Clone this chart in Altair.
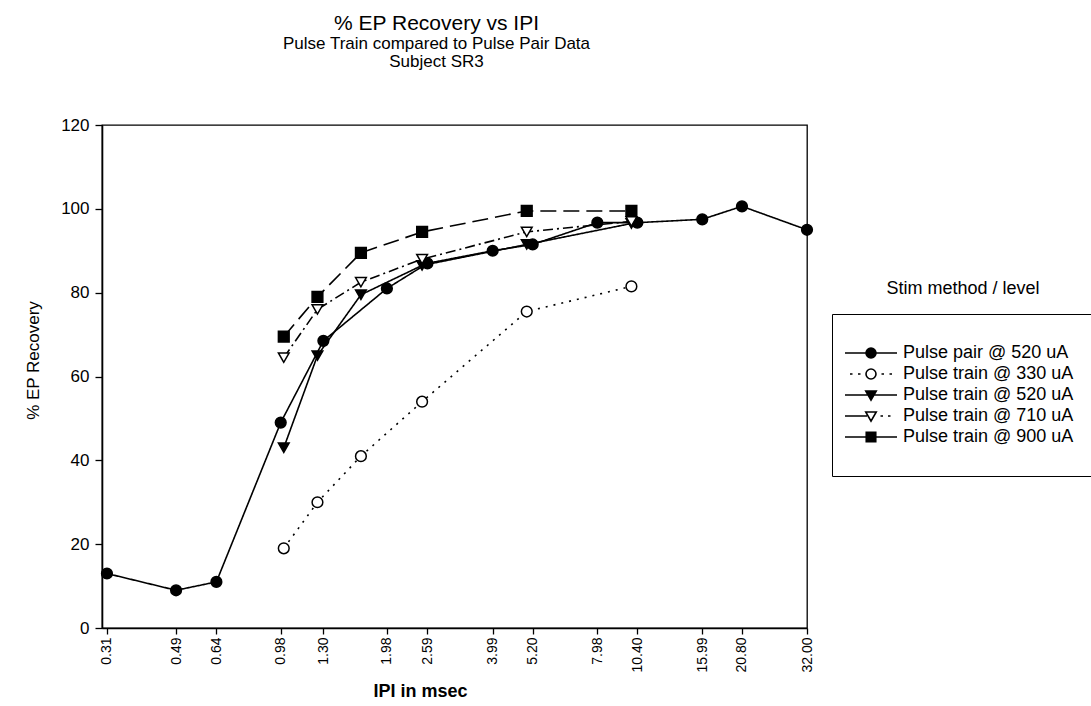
import altair as alt
import pandas as pd

FONT = "Liberation Sans"

series_names = [
    "Pulse pair @ 520 uA",
    "Pulse train @ 330 uA",
    "Pulse train @ 520 uA",
    "Pulse train @ 710 uA",
    "Pulse train @ 900 uA",
]

# Pulse pair IPIs (msec) and % EP recovery
pair_ipi = [0.31, 0.49, 0.64, 0.98, 1.30, 1.98, 2.59, 3.99, 5.20, 7.98, 10.40, 15.99, 20.80, 32.00]
pair_520 = [13, 9, 11, 49, 68.5, 81, 87, 90, 91.5, 96.7, 96.7, 97.5, 100.6, 95]

# Pulse train IPIs (msec) and % EP recovery
train_ipi = [1.0, 1.25, 1.667, 2.5, 5.0, 10.0]
train_330 = [19, 30, 41, 54, 75.5, 81.5]
train_520 = [43, 65, 79.5, 86.5, 91.5, 96.5]
train_710 = [64.5, 76, 82.5, 88, 94.5, 97]
train_900 = [69.5, 79, 89.5, 94.5, 99.5, 99.5]

tick_values = [0.31, 0.49, 0.64, 0.98, 1.30, 1.98, 2.59, 3.99, 5.20, 7.98, 10.40, 15.99, 20.80, 32.00]

rows = []
for x, y in zip(pair_ipi, pair_520):
    rows.append({"series": series_names[0], "ipi": x, "rec": y})
for name, vals in zip(series_names[1:], [train_330, train_520, train_710, train_900]):
    for x, y in zip(train_ipi, vals):
        rows.append({"series": name, "ipi": x, "rec": y})
df = pd.DataFrame(rows)

shape_range = ["circle", "circle", "triangle-down", "triangle-down", "square"]
fill_range = ["black", "white", "black", "white", "black"]
dash_range = [[1, 0], [2, 6], [1, 0], [10, 4, 2, 4], [16, 7]]

circ = "M-1,0A1,1,0,1,1,1,0A1,1,0,1,1,-1,0Z"
tri = "M-1.05,-0.8L1.05,-0.8L0,1.05Z"
sq = "M-0.95,-0.95H0.95V0.95H-0.95Z"
legend_paths = [
    "M-5.2,0H-1M1,0H5.2" + circ,
    "M-4.2,0H-3.7M-2.6,0H-2.1M2.1,0H2.6M3.7,0H4.2" + circ,
    "M-5.2,0H-0.6M0.6,0H5.2" + tri,
    "M-5.2,0H-0.8M1.9,0H2.4M3.4,0H3.9" + tri,
    "M-5.2,0H-1M1,0H5.2" + sq,
]

x_enc = alt.X(
    "ipi:Q",
    scale=alt.Scale(type="log", domain=[0.30, 32], nice=False),
    axis=alt.Axis(
        title="IPI in msec",
        values=tick_values,
        format=".2f",
        labelAngle=-90,
        labelFontSize=14,
        labelFont=FONT,
        labelColor="black",
        labelPadding=3,
        titleFont=FONT,
        titleFontSize=18,
        titleFontWeight="bold",
        titleColor="black",
        titlePadding=10,
        titleX=318,
        tickSize=6,
        tickColor="black",
        tickWidth=1.3,
        domainColor="black",
        domainWidth=1.6,
        grid=False,
        labelFlush=False,
        labelOverlap=False,
    ),
)
y_enc = alt.Y(
    "rec:Q",
    scale=alt.Scale(domain=[0, 120], nice=False),
    axis=alt.Axis(
        title="% EP Recovery",
        values=[0, 20, 40, 60, 80, 100, 120],
        labelFontSize=17,
        labelFont=FONT,
        labelColor="black",
        labelPadding=6,
        titleFont=FONT,
        titleFontSize=17,
        titleFontWeight="normal",
        titleColor="black",
        titleX=-60,
        titleY=235,
        tickSize=7,
        tickColor="black",
        tickWidth=1.3,
        domainColor="black",
        domainWidth=1.6,
        grid=False,
    ),
)

lines = alt.Chart(df).mark_line(color="black", strokeWidth=1.6).encode(
    x=x_enc,
    y=y_enc,
    strokeDash=alt.StrokeDash(
        "series:N", scale=alt.Scale(domain=series_names, range=dash_range), legend=None
    ),
    detail="series:N",
)

points = alt.Chart(df).mark_point(stroke="black", strokeWidth=1.5, opacity=1, size=115).encode(
    x=x_enc,
    y=y_enc,
    shape=alt.Shape("series:N", scale=alt.Scale(domain=series_names, range=shape_range), legend=None),
    fill=alt.Fill("series:N", scale=alt.Scale(domain=series_names, range=fill_range), legend=None),
)

leg = alt.Legend(
    title=None,
    orient="none",
    legendX=730,
    legendY=189,
    padding=30,
    strokeColor="black",
    fillColor="white",
    labelFont=FONT,
    labelFontSize=18,
    labelColor="black",
    labelOffset=23,
    labelLimit=400,
    rowPadding=3,
    symbolSize=100,
    symbolStrokeWidth=1.6,
    symbolStrokeColor="black",
    cornerRadius=0,
)

legend_layer = (
    alt.Chart(df)
    .transform_filter("false")
    .mark_point(strokeWidth=1.6, opacity=1, size=100)
    .encode(
        x=alt.X("ipi:Q"),
        y=alt.Y("rec:Q"),
        shape=alt.Shape("series:N", scale=alt.Scale(domain=series_names, range=legend_paths), legend=leg),
        fill=alt.Fill("series:N", scale=alt.Scale(domain=series_names, range=fill_range), legend=leg),
        stroke=alt.Stroke("series:N", scale=alt.Scale(domain=series_names, range=["black"] * 5), legend=leg),
    )
)

legend_title = alt.Chart(pd.DataFrame({"t": ["Stim method / level"]})).mark_text(
    font=FONT, fontSize=18, color="black", align="center", baseline="middle"
).encode(x=alt.value(861), y=alt.value(164), text="t:N")

chart = (
    alt.layer(lines, points, legend_layer, legend_title)
    .resolve_scale(shape="independent", fill="independent", stroke="independent")
    .properties(
        width=705,
        height=503,
        title=alt.TitleParams(
            text="% EP Recovery vs IPI",
            subtitle=["Pulse Train compared to Pulse Pair Data", "Subject SR3"],
            font=FONT,
            fontSize=21,
            fontWeight="normal",
            color="black",
            subtitleFont=FONT,
            subtitleFontSize=17,
            subtitleLineHeight=18,
            subtitleColor="black",
            subtitlePadding=2,
            anchor="middle",
            dx=-18,
            offset=46,
        ),
        autosize=alt.AutoSizeParams(type="none"),
        padding={"left": 102, "top": 125, "right": 284, "bottom": 78},
        background="white",
    )
    .configure_view(stroke="black", strokeWidth=1.3)
)

chart.save("out.html", embed_options={"renderer": "svg", "actions": False})
